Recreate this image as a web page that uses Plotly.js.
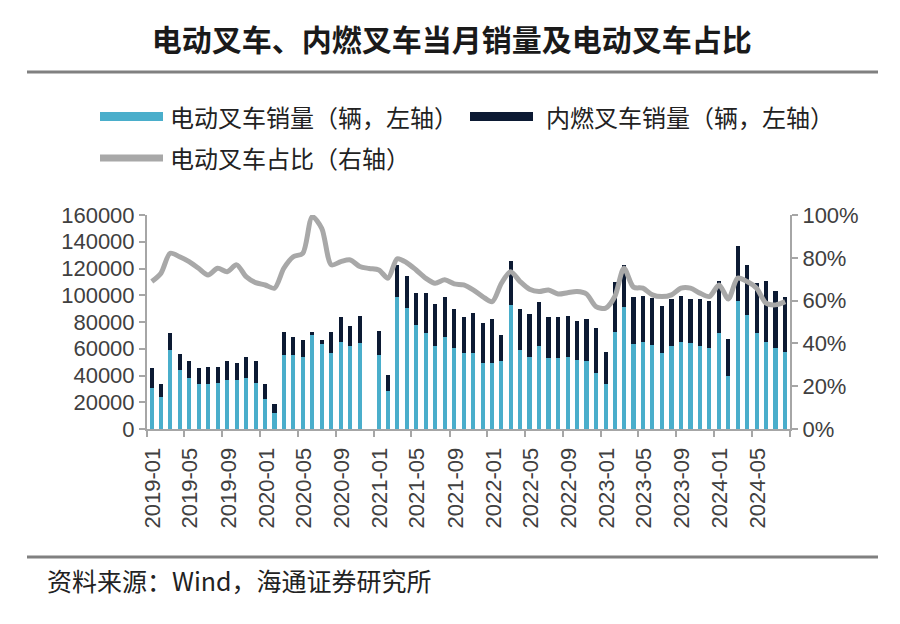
<!DOCTYPE html>
<html>
<head>
<meta charset="utf-8">
<script src="https://cdn.plot.ly/plotly-3.0.1.min.js"></script>
<style>
  body { margin: 0; background: #fff; }
  #chart { width: 900px; height: 624px; }
</style>
</head>
<body>
<div id="chart"></div>
<script>
///////////////////////////////////////////////  data  /////////////////////////////////////////////////////////
var months = [
  '2019-01','2019-02','2019-03','2019-04','2019-05','2019-06','2019-07','2019-08','2019-09','2019-10','2019-11','2019-12',
  '2020-01','2020-02','2020-03','2020-04','2020-05','2020-06','2020-07','2020-08','2020-09','2020-10','2020-11','2020-12',
  '2021-01','2021-02','2021-03','2021-04','2021-05','2021-06','2021-07','2021-08','2021-09','2021-10','2021-11','2021-12',
  '2022-01','2022-02','2022-03','2022-04','2022-05','2022-06','2022-07','2022-08','2022-09','2022-10','2022-11','2022-12',
  '2023-01','2023-02','2023-03','2023-04','2023-05','2023-06','2023-07','2023-08','2023-09','2023-10','2023-11','2023-12',
  '2024-01','2024-02','2024-03','2024-04','2024-05','2024-06','2024-07','2024-08'
];

// 电动叉车销量（辆）
var evSales = [
  30600, 24300, 59200, 44300, 38000, 33800, 33600, 34300, 36800, 36800, 38000, 34300,
  22400, 11900, 55400, 55400, 54200, 70400, 63700, 56700, 65400, 61700, 64200, null,
  55400, 28100, 99000, 90300, 77800, 71600, 62400, 69100, 60400, 56700, 56700, 49300,
  49300, 50500, 92800, 59200, 54200, 61700, 53000, 53000, 54200, 51700, 50500, 41800,
  33800, 72400, 91000, 63700, 65400, 62900, 56700, 61700, 65400, 64200, 61700, 60400,
  71600, 40000, 96000, 85300, 71600, 65400, 60400, 57900
];

// 内燃叉车销量（辆）
var iceSales = [
  14900, 9300, 12400, 11700, 12700, 11700, 12900, 12200, 13900, 12900, 16200, 16400,
  11200, 6500, 17000, 13300, 12400, 2000, 2900, 15700, 18200, 15400, 20400, null,
  18000, 12400, 23600, 24100, 24100, 30300, 31100, 29400, 29200, 26900, 30300, 30300,
  33000, 19900, 32800, 30400, 31900, 33100, 30600, 30600, 30400, 29400, 31800, 33600,
  23700, 37800, 31600, 35300, 34100, 34900, 35300, 35500, 34100, 33000, 35200, 35600,
  39100, 27400, 40800, 37300, 37400, 45500, 43000, 40600
];

// 电动叉车占比（%）
var evShare = [
  68.9, 72.8, 82.1, 80.5, 78.2, 75.1, 72.0, 75.1, 73.5, 76.7, 71.2, 68.4,
  67.3, 65.8, 75.1, 80.5, 82.1, 99.2, 93.8, 76.7, 78.2, 79.0, 75.9, 75.0,
  74.3, 70.5, 79.5, 77.7, 74.3, 70.5, 68.1, 69.7, 67.8, 67.3, 65.0, 61.9,
  59.5, 68.1, 73.5, 68.9, 65.3, 64.2, 65.0, 63.1, 63.7, 64.2, 63.1, 57.2,
  56.5, 61.9, 75.1, 66.3, 65.8, 62.7, 61.9, 62.7, 65.8, 65.8, 63.5, 61.9,
  67.3, 60.8, 70.5, 68.9, 65.8, 58.8, 58.0, 59.5
];

// ticks sit on the month boundaries every 4 months, the label belongs to the month after the tick
var tickMonths = [
  '2019-01','2019-05','2019-09','2020-01','2020-05','2020-09','2021-01','2021-05','2021-09',
  '2022-01','2022-05','2022-09','2023-01','2023-05','2023-09','2024-01','2024-05','2024-09'
];
var tickLabels = [
  '2019-01','2019-05','2019-09','2020-01','2020-05','2020-09','2021-01','2021-05','2021-09',
  '2022-01','2022-05','2022-09','2023-01','2023-05','2023-09','2024-01','2024-05',''
];
var xStart = '2019-01-01', xEnd = '2024-09-01';

///////////////////////////////////////////////  style  /////////////////////////////////////////////////////////
var colEV = '#4aaecb';
var colICE = '#0c1a33';
var colShare = '#a8a8a8';
var axisCol = '#a6a6a6';
var cjk = '"Noto Sans CJK SC", sans-serif';
var latin = '"Liberation Sans", Arial, sans-serif';

// plot area in pixels, used to place the decorations around it
var plotL = 147, plotR = 790, plotT = 215, plotB = 429;
function px(x) { return (x - plotL) / (plotR - plotL); }
function py(y) { return (plotB - y) / (plotB - plotT); }

/////////////////////////////////////////////  traces  /////////////////////////////////////////////////////////
var monthPeriod = { xperiod: 'M1', xperiodalignment: 'middle' };

var traceEV = Object.assign({
  x: months, y: evSales, type: 'bar', name: '电动叉车销量（辆，左轴）',
  marker: { color: colEV }
}, monthPeriod);
var traceICE = Object.assign({
  x: months, y: iceSales, type: 'bar', name: '内燃叉车销量（辆，左轴）',
  marker: { color: colICE }
}, monthPeriod);
var traceShare = Object.assign({
  x: months, y: evShare, type: 'scatter', mode: 'lines', yaxis: 'y2',
  name: '电动叉车占比（右轴）', connectgaps: true, cliponaxis: false,
  line: { color: colShare, width: 5, shape: 'spline', smoothing: 0.8 }
}, monthPeriod);

/////////////////////////////////////////////  layout  /////////////////////////////////////////////////////////
var shapes = [
  { type: 'line', xref: 'paper', yref: 'paper', x0: px(27), x1: px(878), y0: py(72), y1: py(72),
    line: { color: '#808080', width: 3 } },
  { type: 'line', xref: 'paper', yref: 'paper', x0: px(27), x1: px(878), y0: py(557), y1: py(557),
    line: { color: '#808080', width: 3 } },
  // legend swatches
  { type: 'rect', xref: 'paper', yref: 'paper', x0: px(100), x1: px(163), y0: py(112), y1: py(121),
    fillcolor: colEV, line: { width: 0 } },
  { type: 'rect', xref: 'paper', yref: 'paper', x0: px(470), x1: px(533), y0: py(112), y1: py(121),
    fillcolor: colICE, line: { width: 0 } },
  { type: 'line', xref: 'paper', yref: 'paper', x0: px(100), x1: px(163), y0: py(158), y1: py(158),
    line: { color: colShare, width: 7 } }
];

var legendFont = { family: cjk, size: 24, color: '#222222' };
var annotations = [
  { text: '电动叉车销量（辆，左轴）', xref: 'paper', yref: 'paper', x: px(168), y: py(116),
    xanchor: 'left', yanchor: 'middle', showarrow: false, font: legendFont },
  { text: '内燃叉车销量（辆，左轴）', xref: 'paper', yref: 'paper', x: px(544), y: py(116),
    xanchor: 'left', yanchor: 'middle', showarrow: false, font: legendFont },
  { text: '电动叉车占比（右轴）', xref: 'paper', yref: 'paper', x: px(168), y: py(158),
    xanchor: 'left', yanchor: 'middle', showarrow: false, font: legendFont },
  { text: '资料来源：Wind，海通证券研究所', xref: 'paper', yref: 'paper', x: px(45), y: py(580),
    xanchor: 'left', yanchor: 'middle', showarrow: false,
    font: { family: cjk, size: 25, color: '#222222' } }
];

var tickFont = { family: latin, size: 22, color: '#404040' };

var layout = {
  width: 900, height: 624,
  margin: { l: plotL, r: 900 - plotR, t: plotT, b: 624 - plotB, pad: 0 },
  paper_bgcolor: '#ffffff', plot_bgcolor: '#ffffff',
  showlegend: false,
  barmode: 'stack', bargap: 0.55,
  title: {
    text: '电动叉车、内燃叉车当月销量及电动叉车占比',
    x: 0.502, xanchor: 'center', y: 1 - 40 / 624, yanchor: 'middle',
    font: { family: cjk, size: 30, color: '#1a1a1a', weight: 'bold' }
  },
  xaxis: {
    type: 'date', range: [xStart, xEnd],
    tickmode: 'array', tickvals: tickMonths, ticktext: tickLabels,
    ticks: 'outside', ticklen: 6, tickwidth: 2, tickcolor: axisCol,
    tickangle: -90, tickfont: tickFont, ticklabelstandoff: 2, ticklabelshift: 6,
    showline: true, linecolor: axisCol, linewidth: 2,
    showgrid: false, zeroline: false, fixedrange: true
  },
  yaxis: {
    range: [0, 160000], tickmode: 'linear', tick0: 0, dtick: 20000, tickformat: 'd',
    ticks: 'outside', ticklen: 6, tickwidth: 2, tickcolor: axisCol, tickfont: tickFont,
    showline: true, linecolor: axisCol, linewidth: 2,
    showgrid: false, zeroline: false, fixedrange: true
  },
  yaxis2: {
    overlaying: 'y', side: 'right', range: [0, 100], tickmode: 'linear', tick0: 0, dtick: 20,
    ticksuffix: '%', ticks: 'outside', ticklen: 6, tickwidth: 2, tickcolor: axisCol, tickfont: tickFont,
    showline: true, linecolor: axisCol, linewidth: 2,
    showgrid: false, zeroline: false, fixedrange: true
  },
  shapes: shapes,
  annotations: annotations
};

Plotly.newPlot('chart', [traceEV, traceICE, traceShare], layout, { displayModeBar: false, staticPlot: true });
</script>
</body>
</html>
